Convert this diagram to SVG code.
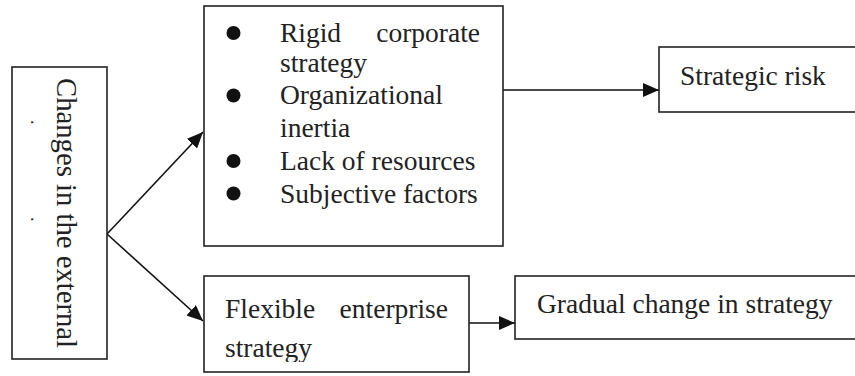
<svg xmlns="http://www.w3.org/2000/svg" width="855" height="376" viewBox="0 0 855 376">
<style>
.box{fill:#fff;stroke:#222;stroke-width:1.6}
.t{font-family:"Liberation Serif","Times New Roman",serif;font-size:27.5px;fill:#222}
.c{stroke:#111;stroke-width:1.6;fill:none}
.b{fill:#111}
</style>
<defs>
<marker id="ah" viewBox="0 0 16 14" refX="16" refY="7" markerWidth="16" markerHeight="14" markerUnits="userSpaceOnUse" orient="auto">
<path d="M0,0 L16,7 L0,14 Z" fill="#111"/>
</marker>
<clipPath id="flexclip"><rect x="204" y="277" width="264" height="85"/></clipPath>
</defs>
<g id="connectors">
<line class="c" x1="107" y1="234" x2="203" y2="132" marker-end="url(#ah)"/>
<line class="c" x1="107" y1="234" x2="203" y2="321" marker-end="url(#ah)"/>
<line class="c" x1="503" y1="90" x2="659" y2="90" marker-end="url(#ah)"/>
<line class="c" x1="469" y1="323" x2="515" y2="323" marker-end="url(#ah)"/>
</g>
<g id="node-external">
<rect class="box" x="12" y="67" width="95" height="292"/>
<text class="t" style="font-size:28.7px" transform="translate(57,78) rotate(90)">Changes in the external</text>
<text class="t" style="font-size:18px" transform="translate(31,120) rotate(90)">.</text>
<text class="t" style="font-size:18px" transform="translate(31,217) rotate(90)">.</text>
</g>
<g id="node-factors">
<rect class="box" x="204" y="6" width="299" height="240"/>
<circle class="b" cx="233.5" cy="33" r="7"/>
<circle class="b" cx="233.5" cy="95.5" r="7"/>
<circle class="b" cx="233.5" cy="161" r="7"/>
<circle class="b" cx="233.5" cy="193.5" r="7"/>
<text class="t" x="280" y="42">Rigid</text>
<text class="t" x="480" y="42" text-anchor="end">corporate</text>
<text class="t" x="280" y="72">strategy</text>
<text class="t" x="280" y="104">Organizational</text>
<text class="t" x="280" y="137">inertia</text>
<text class="t" x="280" y="170">Lack of resources</text>
<text class="t" x="280" y="203">Subjective factors</text>
</g>
<g id="node-risk">
<rect class="box" x="659" y="47" width="210" height="65"/>
<text class="t" x="680" y="85">Strategic risk</text>
</g>
<g id="node-flexible">
<rect class="box" x="204" y="276" width="265" height="96"/>
<g clip-path="url(#flexclip)">
<text class="t" x="225" y="318">Flexible</text>
<text class="t" x="448" y="318" text-anchor="end">enterprise</text>
<text class="t" x="225" y="357">strategy</text>
</g>
</g>
<g id="node-gradual">
<rect class="box" x="515" y="276" width="360" height="63"/>
<text class="t" x="537" y="313">Gradual change in strategy</text>
</g>
</svg>
